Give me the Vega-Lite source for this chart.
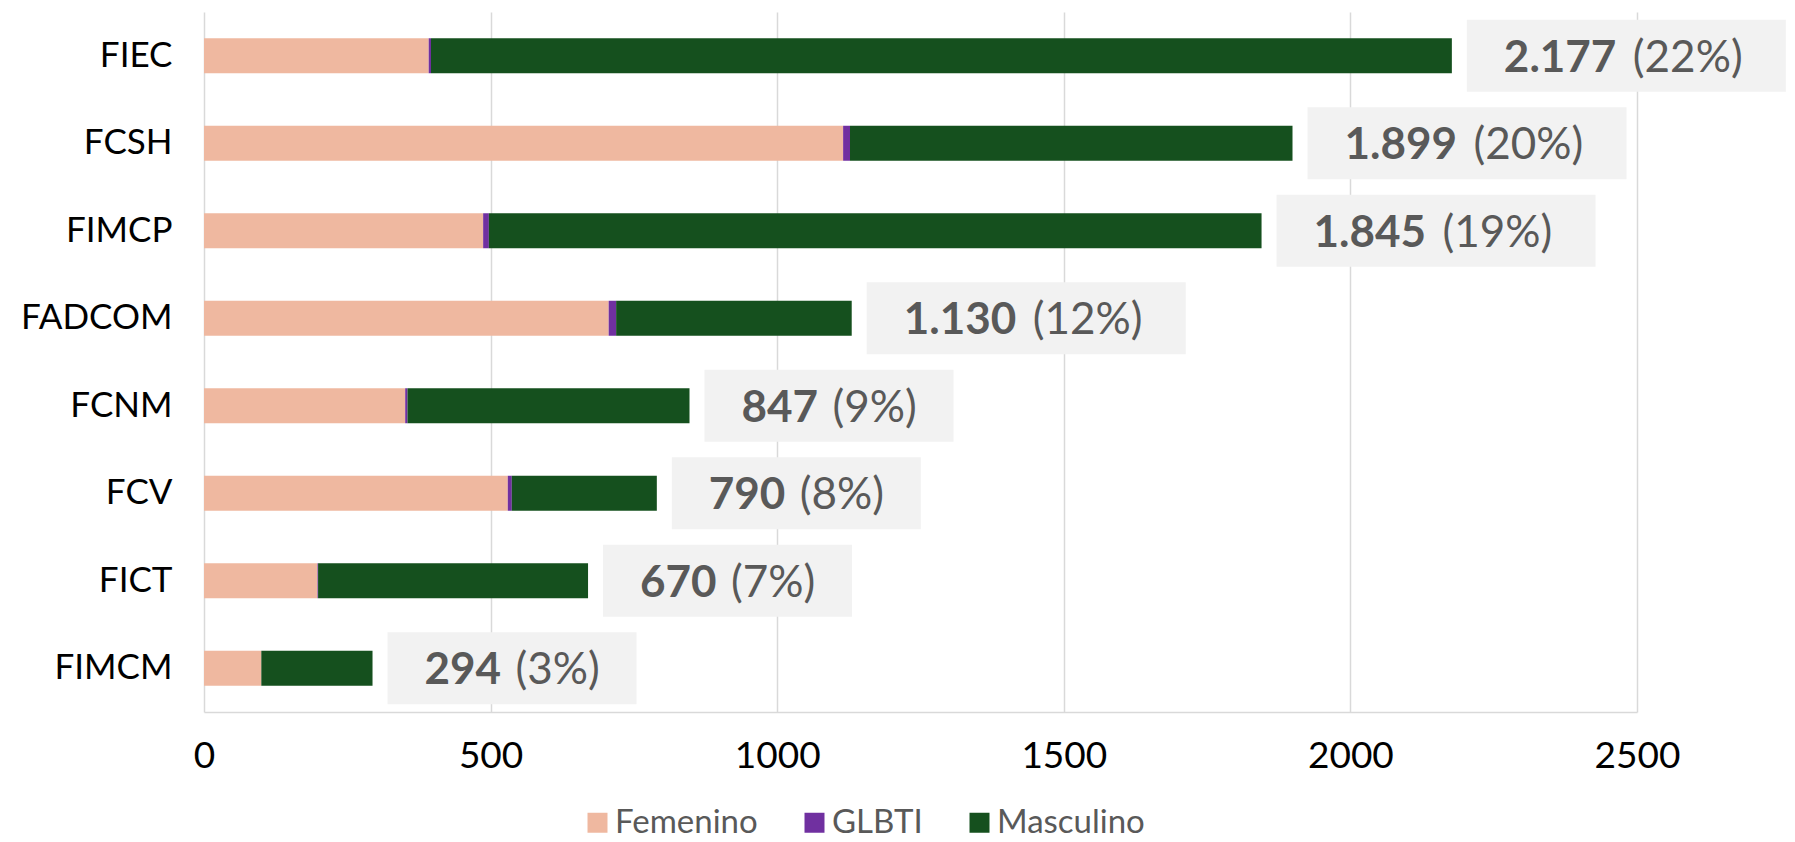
{
  "$schema": "https://vega.github.io/schema/vega-lite/v6.json",
  "autosize": {"type": "none"},
  "padding": {"left": 204, "top": 12, "right": 158, "bottom": 130},
  "width": 1433,
  "height": 700,
  "background": "white",
  "config": {
    "view": {"stroke": null},
    "font": "Lato",
    "locale": {"number": {"decimal": ",", "thousands": ".", "grouping": [3], "currency": ["$", ""]}}
  },
  "datasets": {
    "genero": [
      {"facultad": "FIEC", "genero": "Femenino", "estudiantes": 392},
      {"facultad": "FIEC", "genero": "GLBTI", "estudiantes": 4},
      {"facultad": "FIEC", "genero": "Masculino", "estudiantes": 1781},
      {"facultad": "FCSH", "genero": "Femenino", "estudiantes": 1115},
      {"facultad": "FCSH", "genero": "GLBTI", "estudiantes": 12},
      {"facultad": "FCSH", "genero": "Masculino", "estudiantes": 772},
      {"facultad": "FIMCP", "genero": "Femenino", "estudiantes": 487},
      {"facultad": "FIMCP", "genero": "GLBTI", "estudiantes": 10},
      {"facultad": "FIMCP", "genero": "Masculino", "estudiantes": 1348},
      {"facultad": "FADCOM", "genero": "Femenino", "estudiantes": 706},
      {"facultad": "FADCOM", "genero": "GLBTI", "estudiantes": 13},
      {"facultad": "FADCOM", "genero": "Masculino", "estudiantes": 411},
      {"facultad": "FCNM", "genero": "Femenino", "estudiantes": 351},
      {"facultad": "FCNM", "genero": "GLBTI", "estudiantes": 4},
      {"facultad": "FCNM", "genero": "Masculino", "estudiantes": 492},
      {"facultad": "FCV", "genero": "Femenino", "estudiantes": 530},
      {"facultad": "FCV", "genero": "GLBTI", "estudiantes": 7},
      {"facultad": "FCV", "genero": "Masculino", "estudiantes": 253},
      {"facultad": "FICT", "genero": "Femenino", "estudiantes": 198},
      {"facultad": "FICT", "genero": "GLBTI", "estudiantes": 1},
      {"facultad": "FICT", "genero": "Masculino", "estudiantes": 471},
      {"facultad": "FIMCM", "genero": "Femenino", "estudiantes": 100},
      {"facultad": "FIMCM", "genero": "GLBTI", "estudiantes": 0},
      {"facultad": "FIMCM", "genero": "Masculino", "estudiantes": 194}
    ],
    "totales": [
      {"facultad": "FIEC", "total": 2177, "porcentaje": "(22%)"},
      {"facultad": "FCSH", "total": 1899, "porcentaje": "(20%)"},
      {"facultad": "FIMCP", "total": 1845, "porcentaje": "(19%)"},
      {"facultad": "FADCOM", "total": 1130, "porcentaje": "(12%)"},
      {"facultad": "FCNM", "total": 847, "porcentaje": "(9%)"},
      {"facultad": "FCV", "total": 790, "porcentaje": "(8%)"},
      {"facultad": "FICT", "total": 670, "porcentaje": "(7%)"},
      {"facultad": "FIMCM", "total": 294, "porcentaje": "(3%)"}
    ]
  },
  "layer": [
    {
      "data": {"name": "genero"},
      "mark": {"type": "bar", "size": 35},
      "encoding": {
        "y": {
          "field": "facultad", "type": "nominal",
          "sort": ["FIEC", "FCSH", "FIMCP", "FADCOM", "FCNM", "FCV", "FICT", "FIMCM"],
          "scale": {"paddingInner": 0.6, "paddingOuter": 0.3},
          "axis": {"title": null, "domain": false, "ticks": false, "grid": false, "labelFontSize": 35, "labelColor": "#000000", "labelPadding": 32}
        },
        "x": {
          "field": "estudiantes", "type": "quantitative", "stack": "zero",
          "scale": {"domain": [0, 2500], "nice": false},
          "axis": {"title": null, "values": [0, 500, 1000, 1500, 2000, 2500], "format": "d", "ticks": false, "grid": true, "gridColor": "#D9D9D9", "gridWidth": 1.5, "domainColor": "#D9D9D9", "domainWidth": 1.5, "labelFontSize": 37, "labelColor": "#000000", "labelPadding": 26, "labelFlush": false}
        },
        "color": {
          "field": "genero", "type": "nominal",
          "scale": {"domain": ["Femenino", "GLBTI", "Masculino"], "range": ["#EFB8A0", "#7030A0", "#15501E"]},
          "legend": {"title": null, "orient": "none", "legendX": 377, "legendY": 794, "direction": "horizontal", "symbolType": "square", "symbolSize": 400, "symbolStrokeWidth": 0, "labelFontSize": 33, "labelColor": "#595959", "labelOffset": 1, "columnPadding": 40}
        }
      }
    },
    {
      "data": {"name": "totales"},
      "mark": {"type": "bar", "size": 72, "color": "#F2F2F2", "xOffset": 15, "x2Offset": {"expr": "datum.total >= 1000 ? 334 : 264"}},
      "encoding": {
        "y": {"field": "facultad", "type": "nominal", "sort": ["FIEC", "FCSH", "FIMCP", "FADCOM", "FCNM", "FCV", "FICT", "FIMCM"]},
        "x": {"field": "total", "type": "quantitative"},
        "x2": {"field": "total"}
      }
    },
    {
      "data": {"name": "totales"},
      "mark": {"type": "text", "align": "left", "baseline": "middle", "xOffset": 52, "dy": 3, "fontSize": 44, "fontWeight": "bold", "color": "#595959"},
      "encoding": {
        "y": {"field": "facultad", "type": "nominal", "sort": ["FIEC", "FCSH", "FIMCP", "FADCOM", "FCNM", "FCV", "FICT", "FIMCM"]},
        "x": {"field": "total", "type": "quantitative"},
        "text": {"field": "total", "type": "quantitative", "format": ",d"}
      }
    },
    {
      "data": {"name": "totales"},
      "mark": {"type": "text", "align": "left", "baseline": "middle", "xOffset": {"expr": "datum.total >= 1000 ? 181 : 143"}, "dy": 3, "fontSize": 44, "color": "#595959"},
      "encoding": {
        "y": {"field": "facultad", "type": "nominal", "sort": ["FIEC", "FCSH", "FIMCP", "FADCOM", "FCNM", "FCV", "FICT", "FIMCM"]},
        "x": {"field": "total", "type": "quantitative"},
        "text": {"field": "porcentaje", "type": "nominal"}
      }
    }
  ]
}
